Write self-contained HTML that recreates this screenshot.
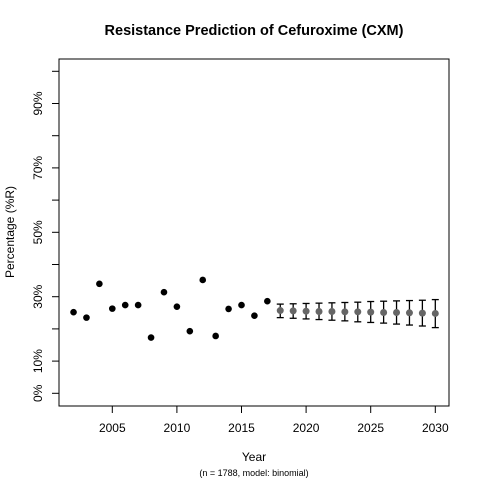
<!DOCTYPE html>
<html><head><meta charset="utf-8"><style>
html,body{margin:0;padding:0;background:#fff;}
svg{display:block;font-family:"Liberation Sans",Arial,sans-serif;}
</style></head><body>
<svg id="chart" width="480" height="480">
<text x="254" y="35" text-anchor="middle" font-size="14.5" font-weight="bold">Resistance Prediction of Cefuroxime (CXM)</text>
<rect x="59" y="59" width="390" height="347" fill="none" stroke="#000" stroke-width="1"/>
<text x="254" y="461" text-anchor="middle" font-size="12">Year</text>
<text x="254" y="476" text-anchor="middle" font-size="9">(n = 1788, model: binomial)</text>
<text transform="translate(14,232) rotate(-90)" text-anchor="middle" font-size="12">Percentage (%R)</text>
<g id="axes"></g><g id="marks"></g>
</svg>
<script>
const obsYears=[2002,2003,2004,2005,2006,2007,2008,2009,2010,2011,2012,2013,2014,2015,2016,2017];
const obsValues=[25.2,23.5,34.0,26.3,27.4,27.4,17.3,31.4,26.9,19.3,35.2,17.8,26.2,27.4,24.1,28.6];
const predYears=[2018,2019,2020,2021,2022,2023,2024,2025,2026,2027,2028,2029,2030];
const predValues=[25.7,25.6,25.5,25.4,25.4,25.3,25.3,25.2,25.1,25.1,25.0,24.9,24.8];
const predUpper=[27.7,27.8,27.9,28.0,28.1,28.2,28.3,28.5,28.6,28.7,28.8,28.9,29.1];
const predLower=[23.5,23.3,23.1,22.9,22.7,22.5,22.2,22.0,21.8,21.5,21.2,20.9,20.4];
const xTicks=[2005,2010,2015,2020,2025,2030];
const yTicks=[0,10,20,30,40,50,60,70,80,90,100];
const yLabels=["0%","10%","","30%","","50%","","70%","","90%",""];
const NS="http://www.w3.org/2000/svg";
const xs=y=>112.3+(y-2005)*12.92;
const ys=v=>393.3-v*3.22;
function mk(tag,attrs,parent){const e=document.createElementNS(NS,tag);for(const k in attrs)e.setAttribute(k,attrs[k]);parent.appendChild(e);return e;}
const ax=document.getElementById('axes'),mg=document.getElementById('marks');
xTicks.forEach(t=>{
  const l=mk('line',{x1:xs(t),x2:xs(t),y1:406,y2:413,stroke:'#000'},ax);
  
  
  const tx=mk('text',{x:xs(t),y:432,'text-anchor':'middle','font-size':12},ax);
  tx.textContent=t;
  
  
});
yTicks.forEach((t,i)=>{
  const l=mk('line',{x1:52,x2:59,y1:ys(t),y2:ys(t),stroke:'#000'},ax);
  
  
  if(yLabels[i]){
    const tx=mk('text',{transform:`translate(42,${ys(t)}) rotate(-90)`,'text-anchor':'middle','font-size':12},ax);
    tx.textContent=yLabels[i];
    
    
  }
});
obsYears.forEach((y,i)=>{
  const c=mk('circle',{cx:xs(y),cy:ys(obsValues[i]),r:3.3,fill:'#000'},mg);
  
  
});
predYears.forEach((y,i)=>{
  const x=xs(y),u=ys(predUpper[i]),lo=ys(predLower[i]);
  const g=mk('g',{stroke:'#000','stroke-width':1.3},mg);
  
  
  mk('line',{x1:x,x2:x,y1:u,y2:lo},g);
  mk('line',{x1:x-3.5,x2:x+3.5,y1:u,y2:u},g);
  mk('line',{x1:x-3.5,x2:x+3.5,y1:lo,y2:lo},g);
  const c=mk('circle',{cx:x,cy:ys(predValues[i]),r:3.5,fill:'#666'},mg);
  
  
});
</script>
</body></html>
